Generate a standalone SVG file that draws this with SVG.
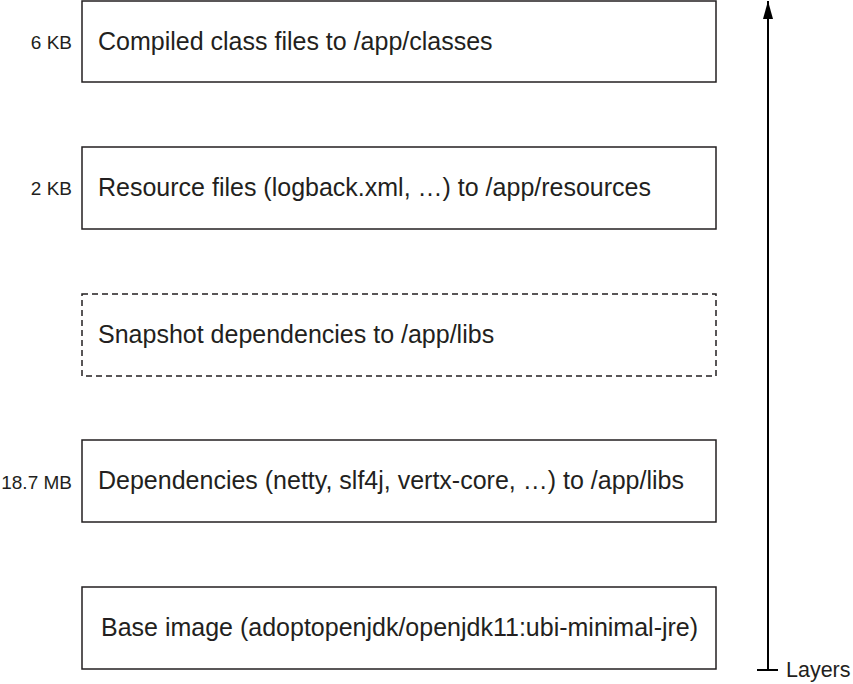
<svg xmlns="http://www.w3.org/2000/svg" width="853" height="684" viewBox="0 0 853 684">
<style>
.box{fill:#fff;stroke:#231f20;stroke-width:1.5}
.dash{stroke-dasharray:6 4}
.t{font-family:"Liberation Sans",Arial,sans-serif;font-size:25px;fill:#231f20}
.s{font-family:"Liberation Sans",Arial,sans-serif;font-size:19px;fill:#231f20;text-anchor:end}
.l{font-family:"Liberation Sans",Arial,sans-serif;font-size:21.5px;fill:#231f20}
.ln{stroke:#000;stroke-width:2;fill:none}
</style>
<defs>
<marker id="ah" markerWidth="18" markerHeight="10" refX="18" refY="5" orient="auto" markerUnits="userSpaceOnUse" viewBox="0 0 18 10">
<path d="M0 0 L18 5 L0 10 Z" fill="#000"/>
</marker>
</defs>
<rect width="853" height="684" fill="#fff"/>
<g id="node-classes">
<rect class="box" x="82" y="1" width="634" height="81"/>
<text class="s" x="72" y="49">6 KB</text>
<text class="t" x="98" y="50">Compiled class files to /app/classes</text>
</g>
<g id="node-resources">
<rect class="box" x="82" y="147" width="634" height="82"/>
<text class="s" x="72" y="195">2 KB</text>
<text class="t" x="98" y="196">Resource files (logback.xml, …) to /app/resources</text>
</g>
<g id="node-snapshot">
<rect class="box dash" x="82" y="294" width="634" height="82"/>
<text class="t" x="98" y="343">Snapshot dependencies to /app/libs</text>
</g>
<g id="node-deps">
<rect class="box" x="82" y="440" width="634" height="82"/>
<text class="s" x="72" y="489">18.7 MB</text>
<text class="t" x="98" y="489">Dependencies (netty, slf4j, vertx-core, …) to /app/libs</text>
</g>
<g id="node-base">
<rect class="box" x="82" y="587" width="634" height="82"/>
<text class="t" x="101" y="636">Base image (adoptopenjdk/openjdk11:ubi-minimal-jre)</text>
</g>
<g id="connectors">
<line class="ln" x1="768" y1="670" x2="768" y2="1" marker-end="url(#ah)"/>
<line class="ln" x1="757" y1="670" x2="778" y2="670"/>
</g>
<g id="axis-label">
<text class="l" x="786" y="677">Layers</text>
</g>
</svg>
